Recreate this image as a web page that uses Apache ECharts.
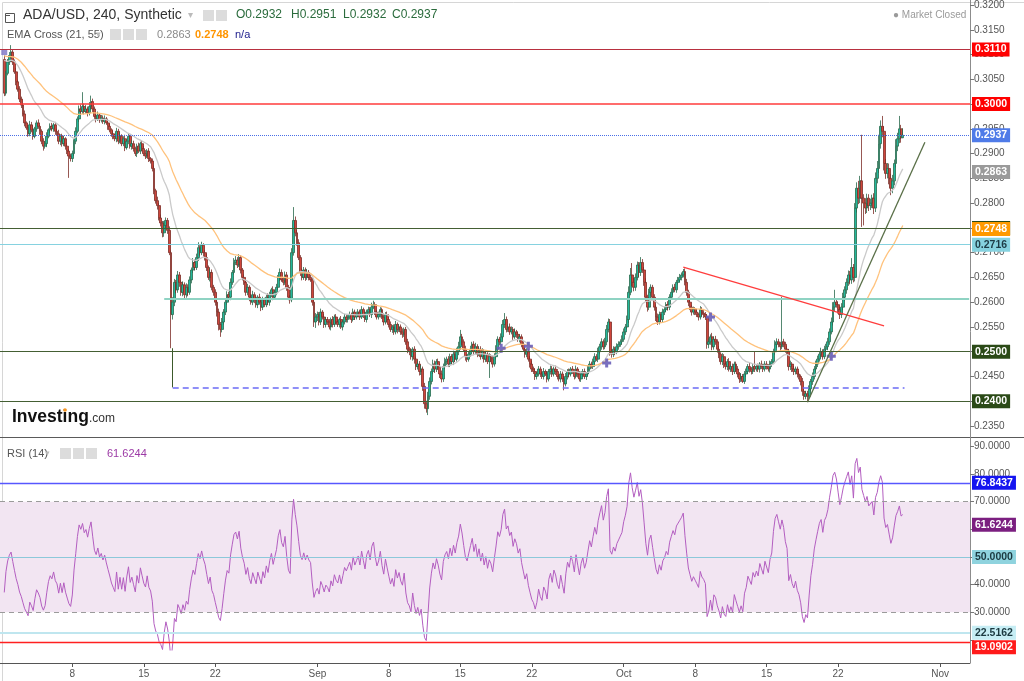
<!DOCTYPE html>
<html>
<head>
<meta charset="utf-8">
<script src="https://cdn.jsdelivr.net/npm/echarts/dist/echarts.min.js"></script>
<style>
html,body{margin:0;padding:0;background:#fff}
#main{width:1024px;height:681px}
</style>
</head>
<body>
<div id="main"></div>
<script>
// ADA/USD 240 min candles, prices in 1/10000 units, first candle sits in slot 2 (Aug 1, 08:00)
var firstIdx = 2;
var slotCount = 570;
var firstOpen = 3090;
var closes = [
  3022,3062,3085,3098,
  3105,3085,3065,3045,3030,3010, 2998,2980,2962,2952,2940,2958, 2948,2935,2950,2962,2955,2945,
  2925,2915,2920,2935,2948,2955, 2950,2958,2945,2940,2925,2935, 2920,2930,2915,2905,2895,2890,
  2900,2925,2945,2970,2990,2985, 2995,2985,2990,2982,2995,3005, 2990,2975,2970,2978,2968,2972,
  2965,2970,2962,2955,2948,2940, 2935,2930,2945,2925,2935,2920, 2930,2912,2925,2935,2915,2920,
  2910,2900,2915,2905,2920,2910, 2900,2895,2905,2890,2885,2870, 2825,2805,2795,2770,2760,2740,
  2755,2765,2745,2700,2575,2600, 2640,2625,2655,2640,2620,2635, 2615,2630,2620,2645,2665,2680,
  2670,2690,2710,2700,2715,2700, 2690,2670,2650,2660,2630,2620, 2600,2580,2555,2545,2560,2580,
  2600,2615,2610,2640,2660,2680, 2685,2675,2690,2665,2650,2640, 2620,2630,2610,2600,2615,2605,
  2595,2610,2600,2590,2605,2595, 2610,2600,2615,2625,2610,2620, 2630,2650,2660,2645,2640,2655,
  2630,2610,2605,2700,2765,2740, 2720,2690,2660,2650,2665,2650, 2660,2650,2645,2600,2560,2570,
  2575,2560,2580,2570,2555,2565, 2560,2550,2565,2555,2570,2560, 2555,2565,2550,2560,2570,2565,
  2570,2575,2565,2580,2570,2575, 2580,2570,2585,2575,2565,2580, 2585,2575,2590,2595,2580,2570,
  2575,2585,2570,2560,2575,2565, 2555,2545,2550,2540,2555,2545, 2550,2540,2535,2545,2520,2505,
  2500,2490,2505,2485,2470,2475, 2460,2465,2430,2395,2385,2410, 2440,2460,2475,2465,2480,2470,
  2455,2445,2470,2480,2485,2475, 2490,2480,2495,2485,2500,2510, 2530,2520,2505,2490,2485,2495,
  2505,2515,2500,2510,2495,2505, 2490,2500,2485,2495,2480,2490, 2485,2475,2490,2505,2525,2520,
  2530,2555,2565,2545,2550,2540, 2545,2530,2540,2535,2525,2530, 2515,2505,2495,2500,2485,2475,
  2465,2460,2450,2455,2465,2455, 2450,2460,2455,2445,2460,2465, 2455,2465,2460,2450,2445,2455,
  2445,2435,2450,2460,2455,2465, 2460,2450,2465,2455,2445,2455, 2460,2450,2455,2465,2475,2470,
  2480,2490,2485,2500,2510,2520, 2510,2520,2545,2560,2500,2495, 2505,2500,2510,2515,2520,2525,
  2540,2550,2565,2620,2655,2640, 2630,2650,2675,2660,2680,2665, 2640,2610,2590,2620,2630,2610,
  2590,2570,2560,2575,2565,2580, 2585,2595,2590,2610,2620,2630, 2625,2640,2645,2650,2655,2662,
  2640,2620,2600,2590,2580,2585, 2580,2575,2570,2585,2578,2575, 2570,2515,2520,2530,2510,2525,
  2520,2505,2495,2480,2490,2475, 2470,2480,2465,2470,2460,2475, 2465,2455,2445,2450,2440,2455,
  2460,2470,2465,2460,2470,2465, 2470,2465,2475,2470,2465,2475, 2470,2465,2475,2480,2500,2515,
  2520,2515,2510,2520,2515,2505, 2500,2470,2475,2465,2460,2465, 2455,2450,2440,2420,2410,2415,
  2410,2425,2440,2450,2465,2475, 2485,2495,2500,2490,2505,2510, 2520,2540,2560,2590,2600,2595,
  2585,2575,2590,2610,2625,2640, 2655,2645,2670,2650,2790,2830, 2810,2845,2810,2800,2790,2810,
  2795,2800,2810,2790,2850,2870, 2920,2955,2945,2880,2860,2870, 2850,2830,2845,2880,2915,2930,
  2950,2932,2937
];
var wickUp = [
  8,5,6,7,
  14,6,5,8,4,6, 5,4,7,3,6,8, 6,9,4,5,7,3,
  4,6,5,8,3,6, 7,4,6,5,8,4, 5,6,3,7,4,5,
  6,4,8,5,7,9, 29,6,8,5,9,12, 6,5,4,7,3,6,
  5,7,4,6,5,3, 6,4,7,5,8,4, 5,8,4,6,3,7,
  6,4,5,7,4,6, 5,7,4,6,3,5, 6,4,8,5,7,4,
  9,6,5,8,4,10, 7,5,8,6,4,7, 5,8,6,7,5,9,
  6,8,11,5,7,4, 5,7,4,8,6,5, 6,4,7,5,8,6,
  5,7,6,8,5,9, 8,6,7,5,4,6, 5,7,4,6,8,5,
  6,4,7,5,6,4, 5,8,6,4,7,5, 7,5,8,6,5,7,
  6,5,4,9,27,8, 6,7,5,8,6,5, 7,5,6,4,5,8,
  6,5,7,4,6,5, 5,6,4,7,5,6, 6,4,7,5,6,4,
  5,6,4,7,5,6, 6,5,7,4,6,5, 6,5,9,8,5,4,
  6,5,4,7,5,6, 5,6,4,5,7,4, 6,5,7,4,5,6,
  5,7,4,6,5,7, 6,8,5,7,6,9, 8,6,9,7,5,6,
  5,7,6,8,5,6, 6,5,7,6,8,10, 14,6,5,7,4,6,
  7,5,6,8,5,6, 6,7,5,6,4,7, 5,6,7,8,6,5,
  7,9,13,6,5,7, 6,5,7,4,6,5, 5,6,4,7,5,6,
  6,5,7,4,6,5, 5,7,4,6,5,7, 6,5,7,5,4,6,
  5,6,7,5,6,4, 6,5,7,4,6,5, 5,6,4,7,6,5,
  6,7,5,8,6,7, 5,8,9,7,6,5, 6,5,7,6,5,8,
  7,6,8,12,14,24, 9,8,7,6,11,7, 6,8,5,7,6,5,
  6,5,7,6,5,7, 6,5,7,6,8,6, 7,5,6,7,5,5,
  6,7,5,6,4,6, 5,6,4,7,5,6, 5,6,7,5,8,6,
  7,5,6,4,7,5, 6,5,7,4,6,5, 5,6,4,7,5,6,
  6,5,7,4,6,30, 5,6,4,7,5,6, 6,5,7,5,6,8,
  7,6,5,91,6,5, 6,5,7,4,6,5, 5,6,4,7,5,6,
  6,7,5,8,6,7, 7,6,8,5,7,6, 8,7,9,10,25,8,
  7,6,8,9,7,8, 9,8,19,7,10,12, 15,10,93,8,10,9,
  8,9,7,10,12,15, 18,12,21,10,9,11, 10,9,12,8,14,12,
  26,8,14
];
var wickDn = [
  6,5,4,6,
  5,6,4,7,5,6, 6,5,7,4,6,5, 5,7,4,6,5,7,
  6,9,5,7,4,6, 5,6,7,4,6,8, 6,5,7,6,44,6,
  7,5,6,4,6,5, 5,6,4,7,5,6, 6,5,7,4,6,5,
  5,6,4,7,5,6, 6,5,7,6,4,5, 5,7,4,6,5,7,
  6,5,7,4,6,5, 5,6,4,7,5,6, 7,6,8,5,7,9,
  8,6,7,5,68,10, 8,7,6,9,7,8, 7,6,8,5,7,6,
  6,5,7,6,5,8, 6,7,5,8,6,7, 7,9,12,15,6,5,
  6,5,7,6,5,4, 5,6,4,7,6,5, 7,6,8,5,6,7,
  6,7,5,8,6,5, 5,6,7,5,6,4, 6,5,7,4,6,5,
  7,6,8,5,6,7, 6,5,7,6,5,7, 5,6,4,7,10,12,
  8,7,6,5,7,6, 6,5,7,6,5,4, 5,6,4,7,5,6,
  6,5,7,4,6,5, 5,6,4,7,5,6, 6,5,7,4,6,5,
  5,6,4,7,5,6, 6,5,7,6,5,8, 5,6,7,5,6,8,
  7,6,8,9,7,6, 8,7,9,10,8,13, 7,6,5,8,6,7,
  8,7,6,5,7,6, 6,5,7,6,5,7, 6,7,5,8,6,5,
  5,6,7,5,6,4, 6,5,7,6,5,33, 6,7,5,6,5,7,
  6,5,7,6,5,6, 5,6,4,7,5,6, 6,5,7,6,5,7,
  6,5,7,6,5,6, 5,6,4,7,5,6, 6,5,7,6,5,7,
  6,13,5,6,7,5, 5,6,4,7,5,6, 6,5,7,5,6,4,
  5,6,4,6,5,6, 6,5,7,6,8,7, 6,7,5,6,5,6,
  5,6,5,7,6,8, 8,7,6,9,7,6, 7,8,9,6,7,6,
  7,8,6,5,7,6, 6,5,7,6,5,6, 5,6,4,5,6,5,
  6,7,8,6,7,5, 6,5,7,5,6,7, 6,9,8,6,7,6,
  6,7,8,6,7,8, 6,7,5,6,7,5, 6,7,8,6,3,5,
  6,5,7,6,5,6, 5,6,7,5,6,5, 6,5,7,6,5,6,
  7,6,8,5,6,7, 6,8,7,6,7,6, 7,6,8,9,7,6,
  11,6,5,7,6,5, 6,5,7,6,5,6, 7,6,5,7,8,6,
  8,9,7,6,7,8, 7,9,8,10,8,9, 12,10,58,45,12,10,
  11,9,10,12,8,10, 9,10,12,14,11,10, 12,14,10,9,8,10,
  9,10,0
];

// date axis
var tickIdx = [42, 84, 126, 186, 228, 270, 312, 366, 408, 450, 492, 552];
var tickText = ['8', '15', '22', 'Sep', '8', '15', '22', 'Oct', '8', '15', '22', 'Nov'];

// drawings on the price panel
var redLevels = [0.3110, 0.3000];
var greenLevels = [0.2750, 0.2500, 0.2400];
var cyanLevel = 0.2716;
var lastPrice = 0.2937;
var emaLast = [0.2863, 0.2748];
var emaSeed = [3095, 3100];
var tealLevel = [96, 0.2606];
var supportLine = [101, 531, 0.2428];
var supportDrop = [101, 0.2507];
var redTrend = [[401, 0.2671], [519, 0.2552]];
var greenTrend = [[474, 0.2398], [543, 0.2923]];
var crossIdx = [294, 310, 356, 417, 488];
var crossVal = [0.2507, 0.2511, 0.2477, 0.2570, 0.2491];

// RSI panel
var rsiSeed = [9, 10];
var rsiBlue = 76.8437, rsiCyan = 22.5162, rsiRed = 19.0902, rsiLast = 61.6244;
var rsiBand = [30, 70];

var FONT = 'Liberation Sans, Arial, sans-serif';

var cats = [];
for (var k = 0; k < slotCount; k++) cats.push(String(k));

var candles = [];
for (var p = 0; p < firstIdx; p++) candles.push('-');
for (var i = 0; i < closes.length; i++) {
  var o = i === 0 ? firstOpen : closes[i - 1];
  var c = closes[i];
  var hi = Math.max(o, c) + (wickUp[i] || 0);
  var lo = Math.min(o, c) - (wickDn[i] || 0);
  candles.push([o / 1e4, c / 1e4, lo / 1e4, hi / 1e4]);
}

function ema(n, seed) {
  var a = 2 / (n + 1), e = seed, out = [];
  for (var p = 0; p < firstIdx; p++) out.push('-');
  for (var i = 0; i < closes.length; i++) {
    e = closes[i] * a + e * (1 - a);
    out.push(+(e / 1e4).toFixed(5));
  }
  return out;
}
function rsi(n) {
  var ag = rsiSeed[0], al = rsiSeed[1], out = [];
  for (var p = 0; p < firstIdx; p++) out.push('-');
  for (var i = 0; i < closes.length; i++) {
    var d = closes[i] - (i === 0 ? firstOpen : closes[i - 1]);
    ag = (ag * (n - 1) + Math.max(d, 0)) / n;
    al = (al * (n - 1) + Math.max(-d, 0)) / n;
    out.push(+(100 - 100 / (1 + ag / al)).toFixed(2));
  }
  return out;
}

var crossPts = crossIdx.map(function (x, j) { return [x, crossVal[j]]; });

function tag(text, bg, fg, dy) {
  return {
    show: true, position: 'end', formatter: text, distance: 2, offset: [0, dy || 0],
    color: fg || '#fff', backgroundColor: bg, padding: [2, 3, 1, 3],
    fontSize: 10.5, fontWeight: 'bold', fontFamily: FONT
  };
}
var noLabel = { show: false };
var hidden = { color: 'rgba(0,0,0,0)', width: 1, type: 'solid' };

var priceMarks = [];
redLevels.forEach(function (v, j) {
  priceMarks.push({ yAxis: v, lineStyle: { color: j ? '#ff3b3b' : '#b8303f', width: j ? 1.5 : 1, type: 'solid' }, label: tag(v.toFixed(4), '#ff0000') });
});
greenLevels.forEach(function (v) {
  priceMarks.push({ yAxis: v, lineStyle: { color: '#445f33', width: 1, type: 'solid' }, label: tag(v.toFixed(4), '#2b4a17') });
});
priceMarks.push({ yAxis: cyanLevel, lineStyle: { color: '#86d2e0', width: 1, type: 'solid' }, label: tag(cyanLevel.toFixed(4), '#86d2df', '#1d3c46') });
priceMarks.push({ yAxis: lastPrice, lineStyle: { color: '#4a6fe6', width: 1, type: 'dotted' }, label: tag(lastPrice.toFixed(4), '#4f7be8') });
priceMarks.push({ yAxis: emaLast[0], lineStyle: hidden, label: tag(emaLast[0].toFixed(4), '#9a9a9a') });
priceMarks.push({ yAxis: emaLast[1], lineStyle: hidden, label: tag(emaLast[1].toFixed(4), '#ff9900') });
priceMarks.push([{ coord: [tealLevel[0], tealLevel[1]], lineStyle: { color: '#8fd3c3', width: 2, type: 'solid' }, label: noLabel }, { coord: [slotCount - 1, tealLevel[1]] }]);
priceMarks.push([{ coord: [supportLine[0], supportLine[2]], lineStyle: { color: '#6b6bf5', width: 1.6, type: [6, 4] }, label: noLabel }, { coord: [supportLine[1], supportLine[2]] }]);
priceMarks.push([{ coord: [supportDrop[0], supportDrop[1]], lineStyle: { color: '#3c5a2b', width: 1, type: 'solid' }, label: noLabel }, { coord: [supportLine[0], supportLine[2]] }]);
priceMarks.push([{ coord: redTrend[0], lineStyle: { color: '#ff3d3d', width: 1.3, type: 'solid' }, label: noLabel }, { coord: redTrend[1] }]);
priceMarks.push([{ coord: greenTrend[0], lineStyle: { color: '#5a7048', width: 1.3, type: 'solid' }, label: noLabel }, { coord: greenTrend[1] }]);

var rsiMarks = [
  { yAxis: rsiBlue, lineStyle: { color: '#5757ff', width: 1.3, type: 'solid' }, label: tag(rsiBlue.toFixed(4), '#1515f0') },
  { yAxis: rsiBand[1], lineStyle: { color: '#9b9b9b', width: 1, type: [5, 4] }, label: noLabel },
  { yAxis: rsiBand[0], lineStyle: { color: '#9b9b9b', width: 1, type: [5, 4] }, label: noLabel },
  { yAxis: 50, lineStyle: { color: '#8cc8da', width: 1, type: 'solid' }, label: tag('50.0000', '#8fd3de', '#1b3940') },
  { yAxis: rsiCyan, lineStyle: { color: '#bfe6ef', width: 2, type: 'solid' }, label: tag(rsiCyan.toFixed(4), '#c6edf4', '#1b3940') },
  { yAxis: rsiRed, lineStyle: { color: '#ff2020', width: 1.3, type: 'solid' }, label: tag(rsiRed.toFixed(4), '#ff1a1a', '#fff', 5) },
  { yAxis: rsiLast, lineStyle: hidden, label: tag(rsiLast.toFixed(4), '#7b1f80') }
];

var tickSet = {}, tickName = {};
tickIdx.forEach(function (t, j) { tickSet[t] = true; tickName[t] = tickText[j]; });

var chart = echarts.init(document.getElementById('main'));

function icon(x, y, n) {
  var out = [];
  for (var j = 0; j < n; j++) {
    out.push({ type: 'rect', left: x + j * 13, top: y, shape: { width: 11, height: 11 }, style: { fill: '#dcdcdc' } });
  }
  return out;
}

var graphics = [
  { type: 'rect', left: 0, top: 0, shape: { width: 1023, height: 680 }, style: { fill: 'none', stroke: '#d6d6d6', lineWidth: 1 }, z: 0 },
  { type: 'line', shape: { x1: 0, y1: 437.5, x2: 1024, y2: 437.5 }, style: { stroke: '#5a5a5a', lineWidth: 1 } },
  { type: 'line', shape: { x1: 970.5, y1: 0, x2: 970.5, y2: 663 }, style: { stroke: '#8c8c8c', lineWidth: 1 } },
  // header
  { type: 'rect', left: 3, top: 11, shape: { width: 9, height: 9 }, style: { fill: 'none', stroke: '#555', lineWidth: 1 } },
  { type: 'line', shape: { x1: 5, y1: 15.5, x2: 10, y2: 15.5 }, style: { stroke: '#555', lineWidth: 1 } },
  { type: 'text', left: 23, top: 8, style: { text: 'ADA/USD, 240, Synthetic', fill: '#333', font: '14px ' + FONT } },
  { type: 'text', left: 188, top: 10, style: { text: '▾', fill: '#bbb', font: '10px ' + FONT } },
  { type: 'text', left: 236, top: 9, style: { text: 'O0.2932', fill: '#2a6b3c', font: '12px ' + FONT } },
  { type: 'text', left: 291, top: 9, style: { text: 'H0.2951', fill: '#2a6b3c', font: '12px ' + FONT } },
  { type: 'text', left: 343, top: 9, style: { text: 'L0.2932', fill: '#2a6b3c', font: '12px ' + FONT } },
  { type: 'text', left: 392, top: 9, style: { text: 'C0.2937', fill: '#2a6b3c', font: '12px ' + FONT } },
  { type: 'text', left: 7, top: 29, style: { text: 'EMA Cross (21, 55)', fill: '#555', font: '11px ' + FONT } },
  { type: 'text', left: 96, top: 30, style: { text: '▾', fill: '#bbb', font: '9px ' + FONT } },
  { type: 'text', left: 157, top: 29, style: { text: '0.2863', fill: '#8a8a8a', font: '11px ' + FONT } },
  { type: 'text', left: 195, top: 29, style: { text: '0.2748', fill: '#ff9500', font: 'bold 11px ' + FONT } },
  { type: 'text', left: 235, top: 29, style: { text: 'n/a', fill: '#1c1c8c', font: '11px ' + FONT } },
  { type: 'text', left: 893, top: 10, style: { text: '● Market Closed', fill: '#9a9a9a', font: '10px ' + FONT } },
  // RSI header
  { type: 'text', left: 7, top: 448, style: { text: 'RSI (14)', fill: '#555', font: '11px ' + FONT } },
  { type: 'text', left: 45, top: 449, style: { text: '▾', fill: '#bbb', font: '9px ' + FONT } },
  { type: 'text', left: 107, top: 448, style: { text: '61.6244', fill: '#9c3aa6', font: '11px ' + FONT } },
  // logo
  { type: 'text', left: 12, top: 408, style: { text: 'Investing', fill: '#111', font: 'bold 17.5px ' + FONT } },
  { type: 'text', left: 89, top: 413, style: { text: '.com', fill: '#333', font: '12px ' + FONT } },
  { type: 'circle', shape: { cx: 65, cy: 410, r: 1.8 }, style: { fill: '#f7941d' } }
];
graphics = graphics.concat(icon(203, 10, 2), icon(110, 29, 3), icon(60, 448, 3));

var option = {
  animation: false,
  backgroundColor: '#fff',
  textStyle: { fontFamily: FONT },
  grid: [
    { left: 0, width: 970, top: 0, height: 437 },
    { left: 0, width: 970, top: 440, height: 210 },
    { left: 0, width: 970, top: 0, height: 663 }
  ],
  xAxis: [
    { type: 'category', data: cats, gridIndex: 0, show: false },
    { type: 'category', data: cats, gridIndex: 1, show: false },
    {
      type: 'category', data: cats, gridIndex: 2,
      axisLine: { show: true, lineStyle: { color: '#555' } },
      axisTick: { show: true, alignWithLabel: true, length: 4, lineStyle: { color: '#555' }, interval: function (i) { return !!tickSet[i]; } },
      axisLabel: {
        color: '#555', fontSize: 10, margin: 6, fontFamily: FONT,
        interval: function (i) { return !!tickSet[i]; },
        formatter: function (v, i) { return tickName[i] || ''; }
      },
      splitLine: { show: false }
    }
  ],
  yAxis: [
    {
      type: 'value', gridIndex: 0, position: 'right', scale: true,
      min: 0.32 - 432 / 4953, max: 0.32 + 5 / 4953, splitNumber: 18,
      axisLine: { show: false },
      axisTick: { show: true, length: 4, lineStyle: { color: '#777' } },
      axisLabel: {
        color: '#555', fontSize: 10, margin: 4, fontFamily: FONT, showMinLabel: false, showMaxLabel: false,
        formatter: function (v) { return v.toFixed(4); }
      },
      splitLine: { show: false }
    },
    {
      type: 'value', gridIndex: 1, position: 'right',
      min: 50 - 93.1 / 2.762, max: 50 + 116.9 / 2.762, splitNumber: 8,
      axisLine: { show: false },
      axisTick: { show: true, length: 4, lineStyle: { color: '#777' } },
      axisLabel: {
        color: '#555', fontSize: 10, margin: 4, fontFamily: FONT, showMinLabel: false, showMaxLabel: false,
        formatter: function (v) { return (v < 25 || Math.abs(v - 60) < 1) ? '' : v.toFixed(4); }
      },
      splitLine: { show: false }
    },
    { type: 'value', gridIndex: 2, show: false, min: 0, max: 1 }
  ],
  series: [
    {
      type: 'candlestick', xAxisIndex: 0, yAxisIndex: 0, data: candles, barWidth: 2.4,
      itemStyle: { color: '#22b89c', color0: '#d0463c', borderColor: '#2a6a4c', borderColor0: '#7c2d27', borderWidth: 0.8 }
    },
    {
      type: 'line', xAxisIndex: 0, yAxisIndex: 0, data: ema(21, emaSeed[0]), showSymbol: false,
      lineStyle: { color: '#cacaca', width: 1.3 }, z: 3
    },
    {
      type: 'line', xAxisIndex: 0, yAxisIndex: 0, data: ema(55, emaSeed[1]), showSymbol: false,
      lineStyle: { color: '#ffc27c', width: 1.3 }, z: 3
    },
    {
      type: 'scatter', xAxisIndex: 0, yAxisIndex: 0, data: crossPts,
      symbol: 'path://M3,0H6V3H9V6H6V9H3V6H0V3H3Z', symbolSize: 9,
      itemStyle: { color: '#6a5fb8', opacity: 0.9 }, z: 4
    },
    {
      type: 'scatter', xAxisIndex: 0, yAxisIndex: 0, data: [[firstIdx, 0.3105]],
      symbol: 'rect', symbolSize: 6, itemStyle: { color: '#7a72c4' }, z: 4
    },
    {
      type: 'line', xAxisIndex: 0, yAxisIndex: 0, data: [], clip: false, silent: true,
      markLine: { symbol: ['none', 'none'], precision: 6, silent: true, animation: false, data: priceMarks }
    },
    {
      type: 'line', xAxisIndex: 1, yAxisIndex: 1, data: [], clip: false, silent: true, z: 1,
      markArea: { silent: true, itemStyle: { color: '#f2e5f2' }, data: [[{ yAxis: rsiBand[0] }, { yAxis: rsiBand[1] }]] },
      markLine: { symbol: ['none', 'none'], precision: 6, silent: true, animation: false, data: rsiMarks }
    },
    {
      type: 'line', xAxisIndex: 1, yAxisIndex: 1, data: rsi(14), showSymbol: false, clip: true,
      lineStyle: { color: '#b35ec0', width: 1 }, z: 3
    }
  ],
  graphic: graphics
};
chart.setOption(option);
</script>
</body>
</html>
